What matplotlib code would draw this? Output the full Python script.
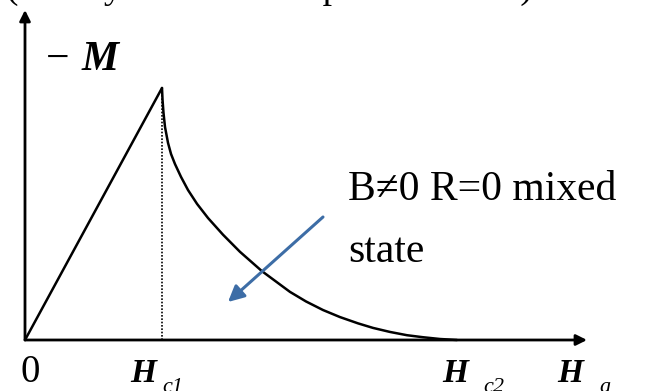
import matplotlib
matplotlib.use('Agg')
import matplotlib.pyplot as plt

# magnetisation curve (H in units of Hc1, -M in units of peak)
H_meissner = [0.0, 1.0]
M_meissner = [0.0, 1.0]
H_mixed = [1.0, 1.004, 1.011, 1.022, 1.044, 1.066, 1.095, 1.139, 1.19, 1.256,
           1.336, 1.445, 1.569, 1.73, 1.934, 2.051, 2.175, 2.299, 2.431, 2.54,
           2.664, 2.788, 2.905, 3.029, 3.153]
M_mixed = [1.0, 0.952, 0.901, 0.845, 0.782, 0.738, 0.698, 0.647, 0.595, 0.54,
           0.484, 0.418, 0.35, 0.273, 0.191, 0.153, 0.119, 0.091, 0.066, 0.048,
           0.032, 0.019, 0.011, 0.004, 0.0]
Hc1 = 1.0
Hc2 = 3.153

W, H = 670, 391
plt.rcParams['font.family'] = ['Liberation Serif', 'DejaVu Serif']

fig = plt.figure(figsize=(W / 100, H / 100), dpi=100)
ax = fig.add_axes([0, 0, 1, 1])
ax.set_xlim(-25 / 137, 645 / 137)
ax.set_ylim(-51 / 252, 340 / 252)
ax.axis('off')

def px(x, y):
    return (x / W, 1 - y / H)

# axes with arrows
ax.annotate('', xy=(562 / 137, 0), xytext=(0, 0),
            arrowprops=dict(arrowstyle='-|>', lw=2, color='black', mutation_scale=16, shrinkA=0, shrinkB=0))
ax.annotate('', xy=(0, 330 / 252), xytext=(0, 0),
            arrowprops=dict(arrowstyle='-|>', lw=2, color='black', mutation_scale=16, shrinkA=0, shrinkB=0))

ax.plot(H_meissner, M_meissner, color='black', lw=1.8, solid_capstyle='round')
ax.plot(H_mixed, M_mixed, color='black', lw=1.8, solid_capstyle='round', solid_joinstyle='round')
ax.plot([Hc1, Hc1], [0, M_meissner[-1]], color='black', lw=1.2, ls=(0, (1, 1)))

# blue pointer
ax.annotate('', xy=((228 - 25) / 137, (340 - 302) / 252), xytext=((323 - 25) / 137, (340 - 217) / 252),
            arrowprops=dict(arrowstyle='-|>', lw=2.2, color='#3D6DA6', mutation_scale=24, shrinkA=0, shrinkB=0))

tf = fig.transFigure
fig.text(*px(6, -2), '(Ideally reversible superconductor)', fontsize=27, transform=tf, va='baseline')
fig.text(*px(46, 70), '\u2212', fontsize=30, transform=tf, va='baseline')
fig.text(*px(82, 70), 'M', fontsize=30, style='italic', weight='bold', transform=tf, va='baseline')

fig.text(*px(30, 382), '0', fontsize=28, transform=tf, va='baseline', ha='center')
for x0, xs, sub in [(130, 162, 'c1'), (442, 483, 'c2'), (557, 599, 'a')]:
    fig.text(*px(x0, 382), 'H', fontsize=24, style='italic', weight='bold', transform=tf, va='baseline')
    fig.text(*px(xs, 392), sub, fontsize=16, style='italic', transform=tf, va='baseline')

fig.text(*px(348, 200), 'B\u22600 R=0 mixed', fontsize=30, transform=tf, va='baseline')
fig.text(*px(348, 262), 'state', fontsize=30, transform=tf, va='baseline')

fig.savefig('out.png', dpi=100)
